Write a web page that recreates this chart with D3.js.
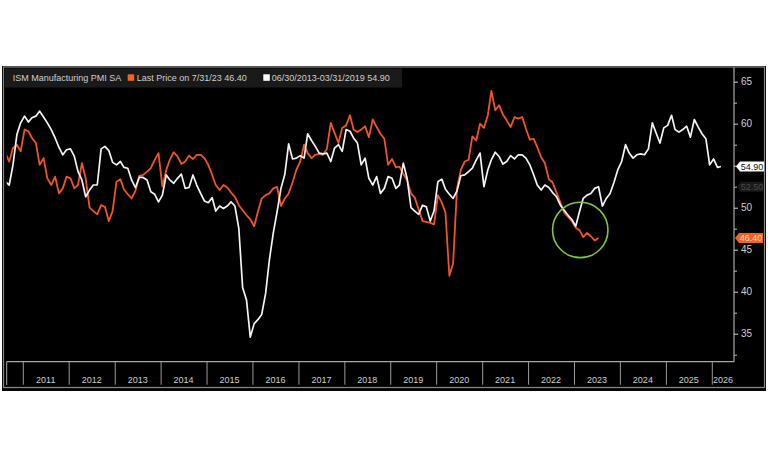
<!DOCTYPE html>
<html><head><meta charset="utf-8">
<script src="https://cdn.jsdelivr.net/npm/d3@7"></script>
<style>
body{margin:0;background:#fff;}
svg{display:block;font-family:"Liberation Sans",Arial,sans-serif;}
</style>
</head><body>
<svg id="chart" width="768" height="463"></svg>
<script>
// ---------- DATA ----------
const legendTitle = "ISM Manufacturing PMI SA";
const seriesNames = ["Last Price on 7/31/23 46.40", "06/30/2013-03/31/2019 54.90"];
const lastLabels = ["46.40", "54.90"];
const fadedLabel = "52.50";

// monthly ISM Manufacturing PMI, Aug 2010 .. Jul 2023
const pmiStart = [2010, 7]; // year, month index (0 = Jan)
const pmiValues = [
  56.5, 55.5, 57.1, 57.5, 56.7,
  59.3, 59.1, 58.3, 57.7, 55.1, 55.9, 53.5, 52.7, 53.7, 51.7, 52.3, 53.7,
  53.5, 52.3, 52.7, 55.3, 53.5, 50.0, 49.6, 49.2, 50.3, 50.1, 48.4, 49.6,
  53.1, 53.4, 52.2, 51.6, 51.1, 52.0, 53.8, 53.9, 54.3, 54.7, 55.7, 56.5,
  52.5, 54.5, 55.7, 56.6, 56.1, 55.2, 55.5, 56.2, 55.8, 56.3, 56.3, 55.9,
  55.1, 53.9, 52.7, 52.1, 52.7, 52.4, 51.8, 51.3, 50.3, 49.7, 49.1, 48.6,
  47.8, 49.6, 51.1, 51.5, 51.7, 52.3, 52.5, 50.2, 51.1, 51.7, 53.0, 54.5,
  55.5, 57.5, 56.5, 55.9, 56.3, 56.4, 56.3, 57.0, 60.1, 58.9, 57.7, 59.5,
  59.8, 61.0, 59.3, 59.0, 59.3, 59.7, 58.4, 60.5, 59.6, 58.8, 58.2, 55.1,
  55.8, 54.8, 54.9, 54.0, 53.3, 51.7, 51.2, 49.8, 48.4, 48.3, 48.2, 48.0,
  51.5, 50.6, 49.4, 41.9, 43.4, 52.3, 54.5, 55.5, 55.7, 58.5, 58.0, 60.0,
  59.5, 61.0, 63.9, 61.6, 62.2, 61.1, 60.4, 59.6, 60.8, 60.6, 60.8, 59.4,
  58.1, 58.2, 57.2, 56.0, 55.3, 53.4, 53.0, 51.8, 50.6, 49.4, 48.9, 48.4,
  47.6, 47.3, 46.5, 47.0, 46.6, 46.1, 46.4
];

// shifted comparison series (white), Aug 2010 .. Mar 2026
const overlayStart = [2010, 7];
const overlayValues = [
  53.1, 52.7, 55.1, 58.7, 60.1,
  60.9, 60.2, 60.7, 60.9, 61.5, 60.8, 60.1, 59.3, 58.3, 57.2, 56.3, 56.9,
  57.0, 56.1, 54.3, 53.3, 51.3, 52.1, 52.7, 52.7, 57.0, 57.3, 56.8, 55.4,
  55.1, 55.5, 54.8, 54.7, 53.3, 52.4, 53.6, 53.6, 53.3, 51.9, 51.6, 50.7,
  51.5, 53.9, 53.3, 52.9, 53.5, 54.0, 52.3, 52.4, 53.9, 52.7, 51.7, 50.8,
  50.6, 51.2, 49.6, 50.2, 49.9, 50.2, 50.7, 50.2, 47.5, 40.5, 39.0, 34.6,
  36.2, 36.7, 37.3, 39.8, 43.8, 47.0, 49.5, 52.3, 54.0, 57.6, 55.8, 55.9,
  56.2, 55.9, 58.8, 58.0, 57.3, 56.5, 56.4, 56.5, 55.5, 57.1, 57.5, 56.7,
  59.3, 59.1, 58.3, 57.7, 55.1, 55.9, 53.5, 52.7, 53.7, 51.7, 52.3, 53.7,
  53.5, 52.3, 52.7, 55.3, 53.5, 50.0, 49.6, 49.2, 50.3, 50.1, 48.4, 49.6,
  53.1, 53.4, 52.2, 51.6, 51.1, 52.0, 53.8, 53.9, 54.3, 54.7, 55.7, 56.5,
  52.5, 54.5, 55.7, 56.6, 56.1, 55.2, 55.5, 56.2, 55.8, 56.3, 56.3, 55.9,
  55.1, 53.9, 52.7, 52.1, 52.7, 52.4, 51.8, 51.3, 50.3, 49.7, 49.1, 48.6,
  47.8, 49.6, 51.1, 51.5, 51.7, 52.3, 52.5, 50.2, 51.1, 51.7, 53.0, 54.5,
  55.5, 57.5, 56.5, 55.9, 56.3, 56.4, 56.3, 57.0, 60.1, 58.9, 57.7, 59.5,
  59.8, 61.0, 59.3, 59.0, 59.3, 59.7, 58.4, 60.5, 59.6, 58.8, 58.2, 55.1,
  55.8, 54.8, 54.9
];

const yearLabels = [2011,2012,2013,2014,2015,2016,2017,2018,2019,2020,2021,2022,2023,2024,2025,2026];
const yTicks = [35,40,45,50,55,60,65];
const yTickLabels = ["35","40","45","50","","60","65"]; // 55 sits under the 54.90 tag
const yMinorTicks = [32.5,37.5,42.5,47.5,52.5,57.5,62.5];
const fadedValue = 52.5;
const circleCenter = [new Date(Date.UTC(2023, 1, 20)), 47.35];

// ---------- STYLE ----------
const ORANGE = "#ee5527";
const ORANGE_LABEL = "#f4631f";
const WHITE = "#f4f4f4";
const GRID = "#a8a8a8";
const TEXT = "#cfcfcf";

// ---------- LAYOUT ----------
const plot = {left: 6.7, right: 734, top: 67.5, bottom: 361.7};

const x = d3.scaleUtc()
  .domain([new Date(Date.UTC(2011,0,1)), new Date(Date.UTC(2026,0,1))])
  .range([22.8, 711.8]);
const y = d3.scaleLinear().domain([35, 65]).range([333.7, 81.7]);

function toSeries(start, vals){
  return vals.map((v,i)=>({date:new Date(Date.UTC(start[0], start[1]+i, 15)), value:v}));
}
const pmi = toSeries(pmiStart, pmiValues);
const overlay = toSeries(overlayStart, overlayValues);

const svg = d3.select("#chart");

// panel
svg.append("rect").attr("x",2).attr("y",66).attr("width",764).attr("height",325).attr("fill","#000");
svg.append("rect").attr("x",3.5).attr("y",67).attr("width",761).attr("height",320.5)
  .attr("fill","none").attr("stroke","#8a8a8a").attr("stroke-width",1.2);

// clip
svg.append("defs").append("clipPath").attr("id","plotclip").append("rect")
  .attr("x",plot.left).attr("y",plot.top).attr("width",plot.right-plot.left).attr("height",plot.bottom-plot.top);

// legend band
svg.append("rect").attr("x",5).attr("y",68.5).attr("width",397).attr("height",19).attr("fill","#1a1a1a");
const lg = svg.append("g").attr("font-size",9).attr("fill",TEXT);
lg.append("text").attr("x",12.7).attr("y",81.3).text(legendTitle);
lg.append("rect").attr("x",127.7).attr("y",74.3).attr("width",6.5).attr("height",6.5).attr("fill",ORANGE_LABEL);
lg.append("text").attr("x",136.7).attr("y",81.3).text(seriesNames[0]);
lg.append("rect").attr("x",263.3).attr("y",74.3).attr("width",6.5).attr("height",6.5).attr("fill","#fff");
lg.append("text").attr("x",271.7).attr("y",81.3).text(seriesNames[1]);

// lines
const line = d3.line().x(d=>x(d.date)).y(d=>y(d.value));
const lines = svg.append("g").attr("clip-path","url(#plotclip)");
lines.append("path").datum(pmi).attr("d",line).attr("fill","none")
  .attr("stroke",ORANGE).attr("stroke-width",1.8).attr("stroke-linejoin","round");
lines.append("path").datum(overlay).attr("d",line).attr("fill","none")
  .attr("stroke",WHITE).attr("stroke-width",1.7).attr("stroke-linejoin","round");

// green circle
svg.append("circle").attr("cx",x(circleCenter[0])).attr("cy",y(circleCenter[1])).attr("r",27.7)
  .attr("fill","none").attr("stroke","#7fc443").attr("stroke-width",1.6);

// right axis
svg.append("line").attr("x1",plot.right).attr("x2",plot.right).attr("y1",plot.top).attr("y2",plot.bottom)
  .attr("stroke",GRID).attr("stroke-width",1.2);
const yAxis = d3.axisRight(y).tickValues(yTicks).tickSize(4).tickPadding(3)
  .tickFormat((d,i)=>yTickLabels[i]);
const ya = svg.append("g").attr("transform",`translate(${plot.right},0)`).call(yAxis);
ya.select(".domain").remove();
ya.selectAll("line").attr("stroke","#d0d0d0");
ya.selectAll("text").attr("fill",TEXT).attr("font-size",10).attr("font-family","Liberation Sans, Arial, sans-serif");
const yMinor = d3.axisRight(y).tickValues(yMinorTicks).tickSize(3).tickFormat("");
const ym = svg.append("g").attr("transform",`translate(${plot.right},0)`).call(yMinor);
ym.select(".domain").remove();
ym.selectAll("line").attr("stroke","#bbbbbb");

// bottom date bar
svg.append("line").attr("x1",plot.left).attr("x2",plot.right).attr("y1",plot.bottom).attr("y2",plot.bottom)
  .attr("stroke",GRID).attr("stroke-width",1.2);
svg.append("line").attr("x1",plot.left).attr("x2",plot.left).attr("y1",plot.bottom).attr("y2",385)
  .attr("stroke",GRID).attr("stroke-width",1);
const yearStarts = yearLabels.map(yr=>new Date(Date.UTC(yr,0,1)));
const xAxis = d3.axisBottom(x).tickValues(yearStarts).tickSize(23).tickFormat("");
const xa = svg.append("g").attr("transform",`translate(0,${plot.bottom})`).call(xAxis);
xa.select(".domain").remove();
xa.selectAll("line").attr("stroke","#9a9a9a");
const xl = svg.append("g").attr("font-size",9).attr("fill",TEXT).attr("text-anchor","middle");
yearLabels.forEach(yr=>{
  const a = x(new Date(Date.UTC(yr,0,1)));
  const b = Math.min(x(new Date(Date.UTC(yr+1,0,1))), plot.right);
  xl.append("text").attr("x",(a+b)/2).attr("y",382.5).text(yr);
});

// last value labels
function tag(val, text, fill, color, x0, x1){
  const yc = y(val), h = 10;
  svg.append("path")
    .attr("d",`M${x0},${yc} L${x0+4},${yc-h/2} L${x1},${yc-h/2} L${x1},${yc+h/2} L${x0+4},${yc+h/2} Z`)
    .attr("fill",fill);
  svg.append("text").attr("x",(x0+4+x1)/2).attr("y",yc+3.3).attr("text-anchor","middle")
    .attr("font-size",9).attr("fill",color).text(text);
}
tag(fadedValue, fadedLabel, "#1a1a1a", "#4a4a4a", 737, 763);
tag(+lastLabels[1], lastLabels[1], "#ffffff", "#111", 736, 764);
tag(+lastLabels[0], lastLabels[0], ORANGE_LABEL, "#ffd9c8", 735, 763);
</script>
</body></html>
